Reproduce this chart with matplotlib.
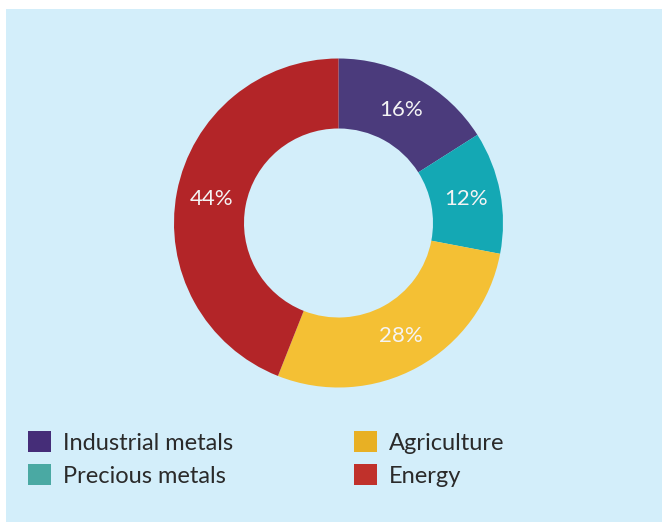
import matplotlib
matplotlib.use("Agg")
import matplotlib.pyplot as plt
from matplotlib.patches import Rectangle, Patch

# data
categories = ["Industrial metals", "Precious metals", "Agriculture", "Energy"]
shares = [16, 12, 28, 44]
ring_colors = ["#4b3b7c", "#14a8b4", "#f4c034", "#b32528"]
legend_colors = ["#452d78", "#4aa9a3", "#e8b024", "#c0312b"]

plt.rcParams["font.family"] = ["Lato", "DejaVu Sans"]

W, H = 662, 522
fig = plt.figure(figsize=(W / 100, H / 100), dpi=100)
fig.patch.set_facecolor("white")

# light blue panel
fig.patches.append(Rectangle((6 / W, 0), 1, 1 - 9 / H, transform=fig.transFigure,
                             facecolor="#d3eefa", edgecolor="none", zorder=-5))

# donut
cx, cy, R = 338.5, 223, 164.5
ax = fig.add_axes([(cx - R) / W, (H - cy - R) / H, 2 * R / W, 2 * R / H])
ax.set_facecolor("none")
ring = 70 / R
wedges, _, pct = ax.pie(shares, colors=ring_colors, startangle=90, counterclock=False,
                        radius=1, wedgeprops=dict(width=ring, linewidth=0),
                        autopct=lambda p: f"{p:.0f}%", pctdistance=1 - ring / 2,
                        textprops=dict(color="#f4f4f4", fontsize=16))
ax.set_xlim(-1, 1)
ax.set_ylim(-1, 1)
ax.axis("off")

# legend: order in two columns
handles = [Patch(facecolor=c, edgecolor="none") for c in legend_colors]
fig.legend(handles, categories, ncol=2, loc="upper left",
           bbox_to_anchor=(7 / W, 1 - 410 / H), frameon=False,
           fontsize=17, handlelength=0.98, handleheight=0.98,
           handletextpad=0.5, labelspacing=0.45, columnspacing=5.1,
           labelcolor="#2a2a2a")

fig.savefig("out.png", dpi=100, facecolor=fig.get_facecolor())
